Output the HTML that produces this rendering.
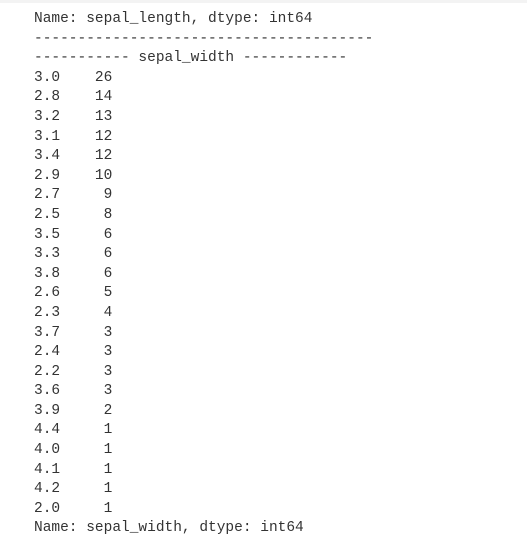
<!DOCTYPE html>
<html><head><meta charset="utf-8"><style>
html,body{margin:0;padding:0;background:#fff;width:527px;height:543px;overflow:hidden}
#band{position:absolute;left:0;top:0;width:527px;height:3px;background:#f3f3f3}
pre{position:absolute;left:34px;top:10px;margin:0;font-family:"Liberation Mono",monospace;font-size:14.5px;line-height:19.6px;color:#333}
</style></head><body>
<div id="band"></div>
<pre>Name: sepal_length, dtype: int64
---------------------------------------
----------- sepal_width ------------
3.0    26
2.8    14
3.2    13
3.1    12
3.4    12
2.9    10
2.7     9
2.5     8
3.5     6
3.3     6
3.8     6
2.6     5
2.3     4
3.7     3
2.4     3
2.2     3
3.6     3
3.9     2
4.4     1
4.0     1
4.1     1
4.2     1
2.0     1
Name: sepal_width, dtype: int64</pre>
</body></html>
